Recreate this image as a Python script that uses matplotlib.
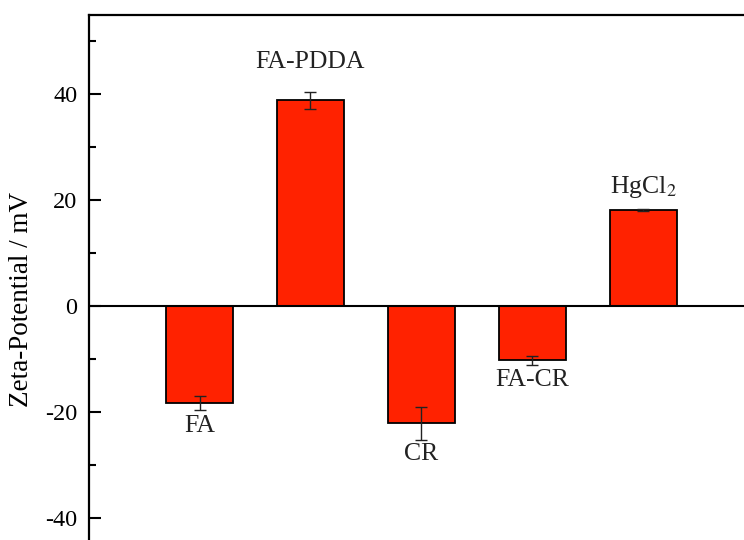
import numpy as np
import matplotlib.pyplot as plt

plt.rcParams['font.family'] = ['Liberation Serif', 'DejaVu Serif']
plt.rcParams['mathtext.fontset'] = 'stix'
plt.rcParams['axes.unicode_minus'] = False

samples = ['FA', 'FA-PDDA', 'CR', 'FA-CR', r'HgCl$_2$']
zeta = [-18.2, 38.9, -22.1, -10.2, 18.2]
zeta_err = [1.3, 1.6, 3.1, 0.9, 0.2]

# label offsets from the error bar end, in points (sign follows the bar)
label_offset = [11.5, 21.5, 10, 11, 15.5]

fig = plt.figure(figsize=(7.44, 5.40), dpi=100)
ax = fig.add_axes([0.119, -0.1556, 0.895, 1.1278])

x = np.arange(1, len(samples) + 1)
ax.bar(x, zeta, width=0.6, color='#ff2200', edgecolor='black', linewidth=1.3, zorder=2)
ax.errorbar(x, zeta, yerr=zeta_err, fmt='none', ecolor='#222222',
            elinewidth=1.0, capsize=4, capthick=1.0, zorder=3)
ax.axhline(0, color='black', linewidth=1.5, zorder=4)

for xi, v, e, lab, off in zip(x, zeta, zeta_err, samples, label_offset):
    sign = 1 if v > 0 else -1
    ax.annotate(lab, (xi, v + sign * e), xytext=(0, sign * off),
                textcoords='offset points', ha='center', va='center',
                fontsize=18.5, color='#222222')

ax.set_xlim(0, 6)
ax.set_ylim(-60, 55)
ax.set_yticks([-40, -20, 0, 20, 40])
ax.set_yticks(np.arange(-50, 55, 10), minor=True)
ax.set_xticks([])
ax.tick_params(axis='y', which='major', direction='in', length=8.5, width=1.5,
               labelsize=17.5, pad=8)
ax.tick_params(axis='y', which='minor', direction='in', length=5, width=1.5)
for s in ax.spines.values():
    s.set_linewidth(1.6)

fig.text(22 / 744, 1 - 299 / 540, 'Zeta-Potential / mV', rotation=90,
         ha='center', va='center', fontsize=19.5)

fig.savefig('out.png', dpi=100)
